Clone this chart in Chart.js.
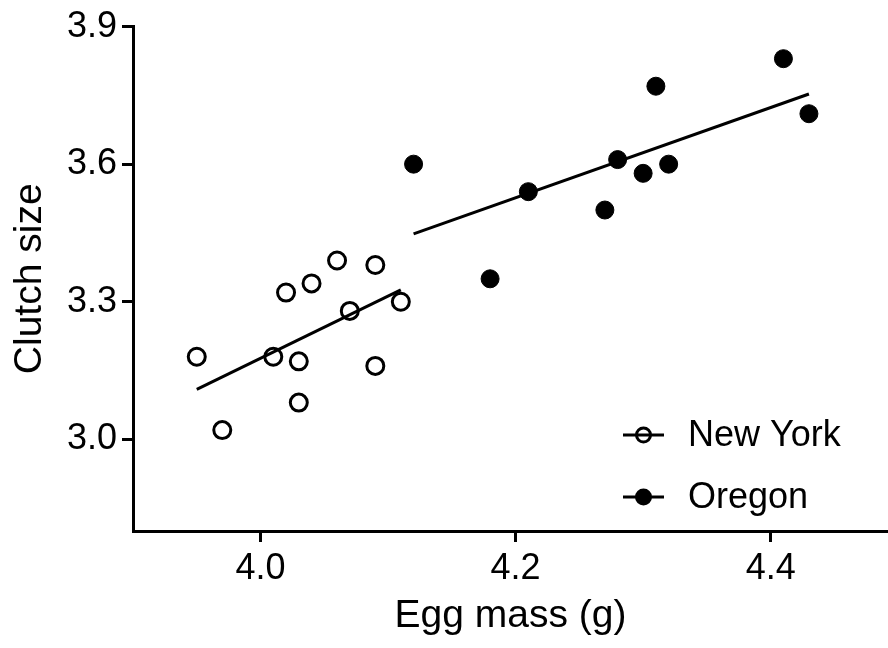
<!DOCTYPE html>
<html>
<head>
<meta charset="utf-8">
<script src="https://cdn.jsdelivr.net/npm/chart.js@4.4.1/dist/chart.umd.min.js"></script>
<style>
  body { margin: 0; background: #fff; }
  #wrap { width: 888px; height: 648px; }
</style>
</head>
<body>
<div id="wrap"><canvas id="myChart" width="888" height="648"></canvas></div>
<script>
// New York (open circles)
var nyMass = [3.95, 3.97, 4.01, 4.02, 4.03, 4.03, 4.04, 4.06, 4.07, 4.09, 4.09, 4.11];
var nyClutch = [3.18, 3.02, 3.18, 3.32, 3.17, 3.08, 3.34, 3.39, 3.28, 3.38, 3.16, 3.30];
// Oregon (filled circles)
var orMass = [4.12, 4.18, 4.21, 4.27, 4.28, 4.30, 4.31, 4.32, 4.41, 4.43];
var orClutch = [3.60, 3.35, 3.54, 3.50, 3.61, 3.58, 3.77, 3.60, 3.83, 3.71];
// fitted regression lines (end points)
var nyFitMass = [3.95, 4.11];
var nyFitClutch = [3.109, 3.326];
var orFitMass = [4.12, 4.43];
var orFitClutch = [3.448, 3.753];
// axis ticks
var xTicks = [4.0, 4.2, 4.4];
var yTicks = [3.0, 3.3, 3.6, 3.9];
var seriesNames = ['New York', 'Oregon'];

function pairs(xs, ys) {
    return xs.map(function (x, i) { return { x: x, y: ys[i] }; });
}

var fontFamily = "'Liberation Sans', Arial, sans-serif";

// legend drawn inside the plot, bottom right
var insideLegend = {
    id: 'insideLegend',
    afterDatasetsDraw: function (chart) {
        var ctx = chart.ctx;
        var area = chart.chartArea;
        var rows = [area.bottom - 96, area.bottom - 34];
        var lineX0 = area.right - 265;
        var lineX1 = area.right - 224;
        var cx = (lineX0 + lineX1) / 2;
        ctx.save();
        ctx.strokeStyle = '#000';
        ctx.fillStyle = '#000';
        ctx.lineWidth = 3;
        seriesNames.forEach(function (name, i) {
            var y = rows[i];
            ctx.beginPath();
            ctx.moveTo(lineX0, y);
            ctx.lineTo(lineX1, y);
            ctx.stroke();
            ctx.beginPath();
            if (i === 0) {
                ctx.arc(cx, y, 7, 0, Math.PI * 2);
                ctx.stroke();
            } else {
                ctx.arc(cx, y, 8.5, 0, Math.PI * 2);
                ctx.fill();
            }
            ctx.font = '36px ' + fontFamily;
            ctx.textBaseline = 'middle';
            ctx.textAlign = 'left';
            ctx.fillText(name, area.right - 200, y + 1);
        });
        ctx.restore();
    }
};

var ctx = document.getElementById('myChart').getContext('2d');
new Chart(ctx, {
    type: 'scatter',
    data: {
        datasets: [
            {
                label: seriesNames[0],
                data: pairs(nyMass, nyClutch),
                pointRadius: 8.5,
                pointBorderWidth: 3,
                pointBorderColor: '#000',
                pointBackgroundColor: 'rgba(0,0,0,0)',
                showLine: false
            },
            {
                label: seriesNames[1],
                data: pairs(orMass, orClutch),
                pointRadius: 9,
                pointBorderWidth: 1,
                pointBorderColor: '#000',
                pointBackgroundColor: '#000',
                showLine: false
            },
            {
                label: 'New York fit',
                data: pairs(nyFitMass, nyFitClutch),
                showLine: true,
                pointRadius: 0,
                borderColor: '#000',
                borderWidth: 3
            },
            {
                label: 'Oregon fit',
                data: pairs(orFitMass, orFitClutch),
                showLine: true,
                pointRadius: 0,
                borderColor: '#000',
                borderWidth: 3
            }
        ]
    },
    options: {
        responsive: false,
        animation: false,
        layout: {
            autoPadding: false,
            padding: { top: 23, right: 0, bottom: 0, left: 0 }
        },
        plugins: {
            legend: { display: false },
            tooltip: { enabled: false }
        },
        scales: {
            x: {
                type: 'linear',
                min: 3.9,
                max: 4.492,
                afterBuildTicks: function (axis) {
                    axis.ticks = xTicks.map(function (v) { return { value: v }; });
                },
                afterFit: function (axis) { axis.height = 117; },
                grid: {
                    drawOnChartArea: false,
                    drawTicks: true,
                    tickLength: 11,
                    color: '#000',
                    lineWidth: 3
                },
                border: { display: true, color: '#000', width: 3 },
                ticks: {
                    color: '#000',
                    padding: 5,
                    font: { family: fontFamily, size: 36 },
                    callback: function (v) { return Number(v).toFixed(1); }
                },
                title: {
                    display: true,
                    text: 'Egg mass (g)',
                    color: '#000',
                    font: { family: fontFamily, size: 39 },
                    padding: { top: 0, bottom: 8 }
                }
            },
            y: {
                type: 'linear',
                min: 2.8,
                max: 3.9,
                afterBuildTicks: function (axis) {
                    axis.ticks = yTicks.map(function (v) { return { value: v }; });
                },
                afterFit: function (axis) { axis.width = 133; },
                grid: {
                    drawOnChartArea: false,
                    drawTicks: true,
                    tickLength: 11,
                    color: '#000',
                    lineWidth: 3
                },
                border: { display: true, color: '#000', width: 3 },
                ticks: {
                    color: '#000',
                    padding: 5,
                    font: { family: fontFamily, size: 36 },
                    callback: function (v) { return Number(v).toFixed(1); }
                },
                title: {
                    display: true,
                    text: 'Clutch size',
                    color: '#000',
                    font: { family: fontFamily, size: 39 },
                    padding: { top: 7, bottom: 0 }
                }
            }
        }
    },
    plugins: [insideLegend]
});
</script>
</body>
</html>
